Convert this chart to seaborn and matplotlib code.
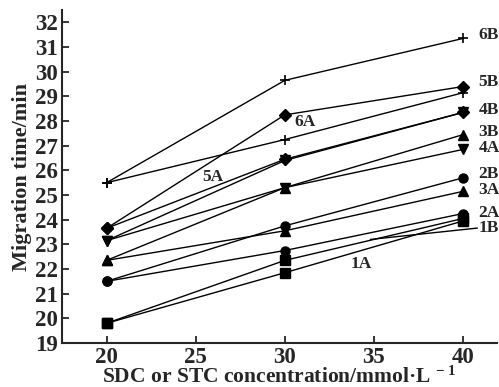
import matplotlib
matplotlib.use('Agg')
import matplotlib.pyplot as plt
import seaborn as sns
import pandas as pd

# --- DATOS ---
conc = [20, 30, 40]
series = ['1A', '1B', '2A', '2B', '3A', '3B', '4A', '4B', '5A', '5B', '6A', '6B']
t_1A = [19.8, 21.85, 23.95]
t_1B = [19.8, 22.35, 24.05]
t_2A = [21.5, 22.75, 24.25]
t_2B = [21.5, 23.75, 25.7]
t_3A = [22.35, 23.55, 25.15]
t_3B = [22.35, 25.3, 27.45]
t_4A = [23.15, 25.3, 26.85]
t_4B = [23.15, 26.4, 28.35]
t_5A = [23.65, 26.45, 28.35]
t_5B = [23.65, 28.25, 29.4]
t_6A = [25.5, 27.25, 29.15]
t_6B = [25.5, 29.65, 31.35]
valores = [t_1A, t_1B, t_2A, t_2B, t_3A, t_3B, t_4A, t_4B, t_5A, t_5B, t_6A, t_6B]

marcadores = {'1A': 's', '1B': 's', '2A': 'o', '2B': 'o', '3A': '^', '3B': '^',
              '4A': 'v', '4B': 'v', '5A': 'D', '5B': 'D', '6A': '+', '6B': '+'}

df = pd.DataFrame([(s, c, v) for s, vals in zip(series, valores) for c, v in zip(conc, vals)],
                  columns=['serie', 'conc', 'tiempo'])

# --- FIGURA ---
sns.set_style('ticks')
plt.rcParams['font.family'] = ['Liberation Serif', 'DejaVu Serif']
plt.rcParams['font.weight'] = 'bold'
plt.rcParams['mathtext.fontset'] = 'custom'
plt.rcParams['mathtext.rm'] = 'Liberation Serif:bold'
plt.rcParams['mathtext.bf'] = 'Liberation Serif:bold'
plt.rcParams['mathtext.default'] = 'bf'

fig = plt.figure(figsize=(4.99, 3.87), dpi=100)
ax = fig.add_axes([0.1242, 0.1137, 0.8718, 0.8603])

for s in series:
    m = marcadores[s]
    sns.lineplot(data=df[df['serie'] == s], x='conc', y='tiempo', color='black',
                 marker=m, linewidth=1, markersize=6.5,
                 markeredgecolor='black', markeredgewidth=1 if m != '+' else 1.2,
                 legend=False, ax=ax)

ax.set_xlim(17.5, 41.9)
ax.set_ylim(19, 32.5)
ax.set_xticks([20, 25, 30, 35, 40])
ax.set_yticks(range(19, 33))
ax.tick_params(direction='in', length=5, width=1.3, labelsize=16.5, pad=3)
for lab in ax.get_xticklabels() + ax.get_yticklabels():
    lab.set_fontweight('bold')
for sp in ['left', 'bottom']:
    ax.spines[sp].set_linewidth(1.5)
sns.despine(ax=ax)

ax.set_xlabel('SDC or STC concentration/mmol\u00b7L$^{\\,-1}$', fontsize=15.5,
              fontweight='bold', labelpad=-1)
ax.set_ylabel('Migration time/min', fontsize=16, fontweight='bold', labelpad=2)

# --- ETIQUETAS DE SERIES ---
etiquetas_der = {'6B': 31.47, '5B': 29.57, '4B': 28.43, '3B': 27.54, '4A': 26.9,
                 '2B': 25.84, '3A': 25.2, '2A': 24.26, '1B': 23.66}
for nombre, y in etiquetas_der.items():
    ax.text(40.85, y, nombre, fontsize=12.5, fontweight='bold', va='center', ha='left')
ax.plot([34.8, 40.8], [23.2, 23.66], color='black', lw=1)
ax.text(34.3, 22.2, '1A', fontsize=12.5, fontweight='bold', ha='center', va='center')
ax.text(31.15, 27.95, '6A', fontsize=12.5, fontweight='bold', ha='center', va='center')
ax.text(25.94, 25.72, '5A', fontsize=12.5, fontweight='bold', ha='center', va='center')

plt.savefig('out.png', dpi=100)
plt.close()
